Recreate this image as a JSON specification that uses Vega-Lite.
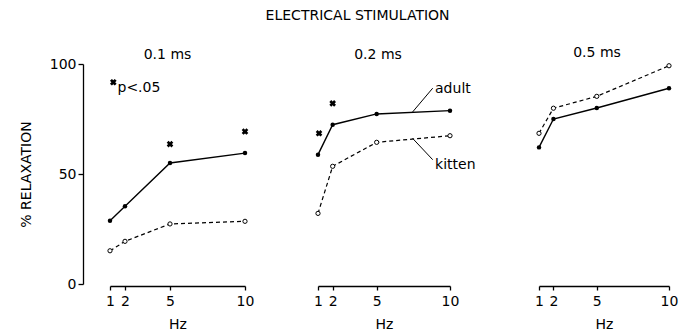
{
  "$schema": "https://vega.github.io/schema/vega-lite/v6.json",
  "background": "white",
  "padding": {"left": 19, "top": 8, "right": 5, "bottom": 2},
  "title": {"text": "ELECTRICAL    STIMULATION", "fontSize": 14, "fontWeight": "normal", "font": "DejaVu Sans", "anchor": "middle", "offset": 23, "color": "black", "dx": 9},
  "config": {
    "view": {"stroke": null},
    "font": "DejaVu Sans",
    "axis": {"grid": false, "domainColor": "black", "tickColor": "black", "labelColor": "black", "titleColor": "black", "labelFontSize": 14, "titleFontSize": 14, "titleFontWeight": "normal", "domainWidth": 1.3, "tickWidth": 1.3, "labelFont": "DejaVu Sans", "titleFont": "DejaVu Sans"}
  },
  "data": {"values": [
    {"ms": "0.1 ms", "kind": "adult", "hz": 1, "pct": 28.8},
    {"ms": "0.1 ms", "kind": "adult", "hz": 2, "pct": 35.3},
    {"ms": "0.1 ms", "kind": "adult", "hz": 5, "pct": 55},
    {"ms": "0.1 ms", "kind": "adult", "hz": 10, "pct": 59.5},
    {"ms": "0.1 ms", "kind": "kitten", "hz": 1, "pct": 15.1},
    {"ms": "0.1 ms", "kind": "kitten", "hz": 2, "pct": 19.4},
    {"ms": "0.1 ms", "kind": "kitten", "hz": 5, "pct": 27.3},
    {"ms": "0.1 ms", "kind": "kitten", "hz": 10, "pct": 28.5},
    {"ms": "0.1 ms", "kind": "star", "hz": 5, "pct": 63.6},
    {"ms": "0.1 ms", "kind": "star", "hz": 10, "pct": 69.3},
    {"ms": "0.1 ms", "kind": "star", "hz": 1.22, "pct": 91.7},
    {"ms": "0.1 ms", "kind": "label", "hz": 1.5, "pct": 89.2, "text": "p<.05"},
    {"ms": "0.2 ms", "kind": "adult", "hz": 1, "pct": 58.8},
    {"ms": "0.2 ms", "kind": "adult", "hz": 2, "pct": 72.4},
    {"ms": "0.2 ms", "kind": "adult", "hz": 5, "pct": 77.3},
    {"ms": "0.2 ms", "kind": "adult", "hz": 10, "pct": 78.8},
    {"ms": "0.2 ms", "kind": "kitten", "hz": 1, "pct": 32.1},
    {"ms": "0.2 ms", "kind": "kitten", "hz": 2, "pct": 53.5},
    {"ms": "0.2 ms", "kind": "kitten", "hz": 5, "pct": 64.4},
    {"ms": "0.2 ms", "kind": "kitten", "hz": 10, "pct": 67.4},
    {"ms": "0.2 ms", "kind": "star", "hz": 1.07, "pct": 68.5},
    {"ms": "0.2 ms", "kind": "star", "hz": 2, "pct": 82.1},
    {"ms": "0.2 ms", "kind": "label", "hz": 8.98, "pct": 88.8, "text": "adult"},
    {"ms": "0.2 ms", "kind": "label", "hz": 8.98, "pct": 53.9, "text": "kitten"},
    {"ms": "0.2 ms", "kind": "leader", "seg": "a", "hz": 8.82, "pct": 89.0},
    {"ms": "0.2 ms", "kind": "leader", "seg": "a", "hz": 7.45, "pct": 78.2},
    {"ms": "0.2 ms", "kind": "leader", "seg": "k", "hz": 8.82, "pct": 56.5},
    {"ms": "0.2 ms", "kind": "leader", "seg": "k", "hz": 7.45, "pct": 66.2},
    {"ms": "0.5 ms", "kind": "adult", "hz": 1, "pct": 62.1},
    {"ms": "0.5 ms", "kind": "adult", "hz": 2, "pct": 75},
    {"ms": "0.5 ms", "kind": "adult", "hz": 5, "pct": 80},
    {"ms": "0.5 ms", "kind": "adult", "hz": 10, "pct": 89},
    {"ms": "0.5 ms", "kind": "kitten", "hz": 1, "pct": 68.5},
    {"ms": "0.5 ms", "kind": "kitten", "hz": 2, "pct": 79.9},
    {"ms": "0.5 ms", "kind": "kitten", "hz": 5, "pct": 85.3},
    {"ms": "0.5 ms", "kind": "kitten", "hz": 10, "pct": 99.2}
  ]},
  "spacing": 73,
  "bounds": "flush",
  "hconcat": [
    {
      "width": 135, "height": 220,
      "title": {"text": "0.1 ms", "fontSize": 14, "fontWeight": "normal", "color": "black", "offset": -5, "dx": -10},
      "transform": [{"filter": "datum.ms == '0.1 ms'"}],
      "encoding": {
        "x": {"field": "hz", "type": "quantitative", "scale": {"domain": [1, 10], "nice": false, "zero": false}, "axis": {"values": [1, 2, 5, 10], "title": "Hz", "offset": 2, "tickSize": 4, "labelPadding": 4, "titlePadding": 9, "labelFlush": false}},
        "y": {"field": "pct", "type": "quantitative", "scale": {"domain": [0, 100], "nice": false}, "axis": {"values": [0, 50, 100], "title": "% RELAXATION", "titleFontSize": 14, "offset": 27, "tickSize": 5, "labelPadding": 2, "titlePadding": 16}}
      },
      "layer": [
        {"transform": [{"filter": "datum.kind == 'adult'"}], "mark": {"type": "line", "color": "black", "strokeWidth": 1.4}},
        {"transform": [{"filter": "datum.kind == 'kitten'"}], "mark": {"type": "line", "color": "black", "strokeWidth": 1.2, "strokeDash": [4, 3]}},
        {"transform": [{"filter": "datum.kind == 'adult'"}], "mark": {"type": "point", "filled": true, "color": "black", "size": 20, "opacity": 1}},
        {"transform": [{"filter": "datum.kind == 'kitten'"}], "mark": {"type": "point", "filled": true, "fill": "white", "stroke": "black", "strokeWidth": 1, "size": 18, "opacity": 1}},
        {"transform": [{"filter": "datum.kind == 'star'"}], "mark": {"type": "point", "shape": "cross", "angle": 45, "filled": true, "color": "black", "size": 45, "opacity": 1}},
        {"transform": [{"filter": "datum.kind == 'label'"}], "mark": {"type": "text", "align": "left", "baseline": "middle", "fontSize": 14, "color": "black"}, "encoding": {"text": {"field": "text"}}}
      ]
    },
    {
      "spacing": 89,
      "bounds": "flush",
      "hconcat": [
        {
          "width": 132, "height": 220,
          "title": {"text": "0.2 ms", "fontSize": 14, "fontWeight": "normal", "color": "black", "offset": 2, "dx": -6},
          "transform": [{"filter": "datum.ms == '0.2 ms'"}],
          "encoding": {
            "x": {"field": "hz", "type": "quantitative", "scale": {"domain": [1, 10], "nice": false, "zero": false}, "axis": {"values": [1, 2, 5, 10], "title": "Hz", "offset": 2, "tickSize": 4, "labelPadding": 4, "titlePadding": 9, "labelFlush": false}},
            "y": {"field": "pct", "type": "quantitative", "scale": {"domain": [0, 100], "nice": false}, "axis": null}
          },
          "layer": [
            {"transform": [{"filter": "datum.kind == 'adult'"}], "mark": {"type": "line", "color": "black", "strokeWidth": 1.4}},
            {"transform": [{"filter": "datum.kind == 'kitten'"}], "mark": {"type": "line", "color": "black", "strokeWidth": 1.2, "strokeDash": [4, 3]}},
            {"transform": [{"filter": "datum.kind == 'leader'"}], "mark": {"type": "line", "color": "black", "strokeWidth": 1}, "encoding": {"detail": {"field": "seg"}}},
            {"transform": [{"filter": "datum.kind == 'adult'"}], "mark": {"type": "point", "filled": true, "color": "black", "size": 20, "opacity": 1}},
            {"transform": [{"filter": "datum.kind == 'kitten'"}], "mark": {"type": "point", "filled": true, "fill": "white", "stroke": "black", "strokeWidth": 1, "size": 18, "opacity": 1}},
            {"transform": [{"filter": "datum.kind == 'star'"}], "mark": {"type": "point", "shape": "cross", "angle": 45, "filled": true, "color": "black", "size": 45, "opacity": 1}},
            {"transform": [{"filter": "datum.kind == 'label'"}], "mark": {"type": "text", "align": "left", "baseline": "middle", "fontSize": 14, "color": "black"}, "encoding": {"text": {"field": "text"}}}
          ]
        },
        {
          "width": 130, "height": 220,
          "title": {"text": "0.5 ms", "fontSize": 14, "fontWeight": "normal", "color": "black", "offset": 2, "dx": -7},
          "transform": [{"filter": "datum.ms == '0.5 ms'"}],
          "encoding": {
            "x": {"field": "hz", "type": "quantitative", "scale": {"domain": [1, 10], "nice": false, "zero": false}, "axis": {"values": [1, 2, 5, 10], "title": "Hz", "offset": 2, "tickSize": 4, "labelPadding": 4, "titlePadding": 9, "labelFlush": false}},
            "y": {"field": "pct", "type": "quantitative", "scale": {"domain": [0, 100], "nice": false}, "axis": null}
          },
          "layer": [
            {"transform": [{"filter": "datum.kind == 'adult'"}], "mark": {"type": "line", "color": "black", "strokeWidth": 1.4}},
            {"transform": [{"filter": "datum.kind == 'kitten'"}], "mark": {"type": "line", "color": "black", "strokeWidth": 1.2, "strokeDash": [4, 3]}},
            {"transform": [{"filter": "datum.kind == 'adult'"}], "mark": {"type": "point", "filled": true, "color": "black", "size": 20, "opacity": 1}},
            {"transform": [{"filter": "datum.kind == 'kitten'"}], "mark": {"type": "point", "filled": true, "fill": "white", "stroke": "black", "strokeWidth": 1, "size": 18, "opacity": 1}}
          ]
        }
      ]
    }
  ]
}
